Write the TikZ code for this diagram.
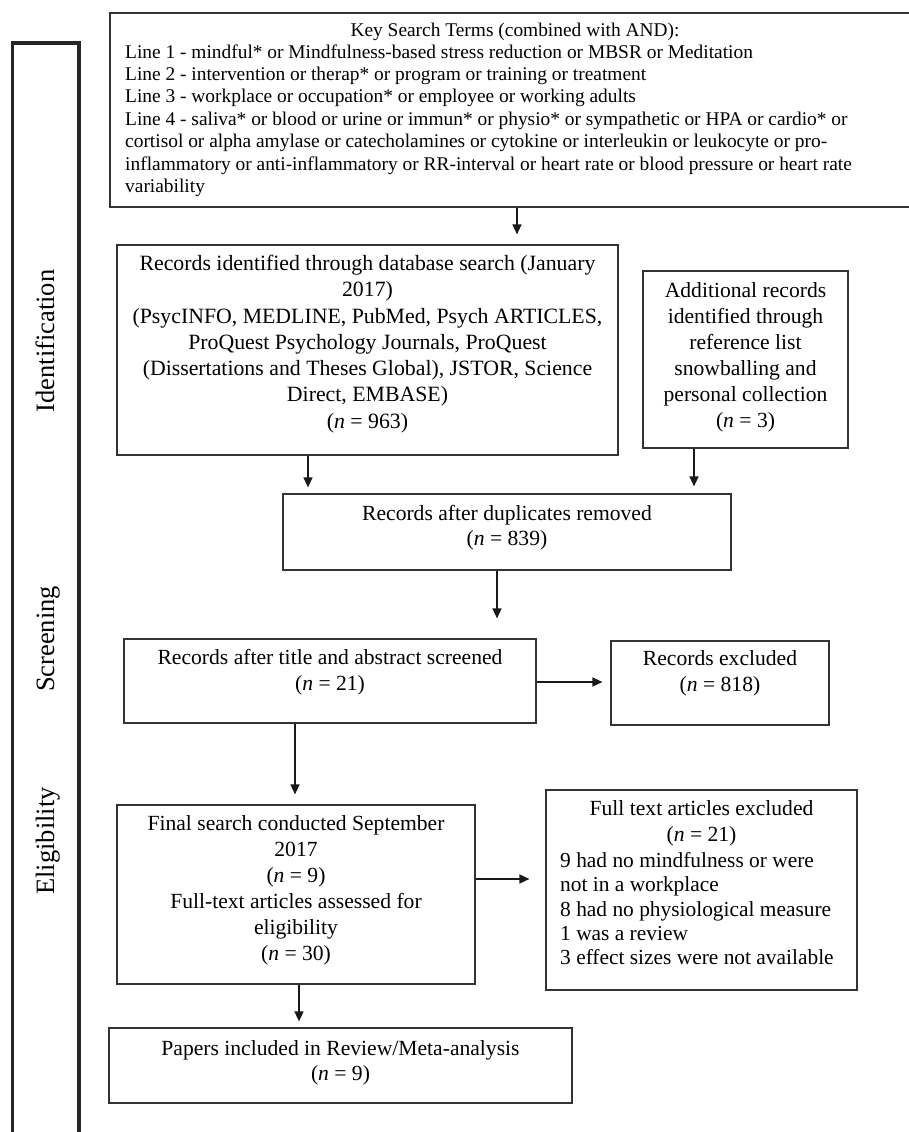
\documentclass[tikz,border=0pt]{standalone}
\usepackage{fontspec}
\setmainfont{Liberation Serif}
\usetikzlibrary{arrows.meta}
\begin{document}
\begin{tikzpicture}[x=1pt,y=-1pt,
  box/.style={draw=black!80, line width=1.2pt, inner sep=0pt},
  txt/.style={inner sep=0pt, align=center, font=\fontsize{21.6}{26}\selectfont},
  lab/.style={inner sep=0pt, rotate=90, anchor=base, font=\fontsize{26.5}{30}\selectfont},
  arr/.style={draw=black!90, line width=1.5pt, -{Triangle[length=10pt,width=9pt]}},
  bar/.style={draw=black!85, line width=3.5pt, line join=miter}]
\useasboundingbox (0,0) rectangle (909,1132);
% side bar
\draw[bar] (12.5,1140) -- (12.5,43) -- (79,43) -- (79,1140);
\node[lab] (lid) at (54,341) {Identification};
\node[lab] (lsc) at (54,639) {Screening};
\node[lab] (lel) at (54,841) {Eligibility};
% boxes
\node[box, minimum width=802pt, minimum height=194pt] (b0) at (511,110) {};
\node[box, minimum width=501pt, minimum height=210pt] (b1) at (367.5,350) {};
\node[box, minimum width=205pt, minimum height=177pt] (b2) at (745.5,359.5) {};
\node[box, minimum width=448pt, minimum height=76pt] (b3) at (507,532) {};
\node[box, minimum width=412pt, minimum height=84pt] (b4) at (330,681) {};
\node[box, minimum width=218pt, minimum height=84pt] (b5) at (720,683) {};
\node[box, minimum width=358pt, minimum height=179pt] (b6) at (296,894.5) {};
\node[box, minimum width=311pt, minimum height=200pt] (b7) at (701.5,890) {};
\node[box, minimum width=463pt, minimum height=75pt] (b8) at (340.5,1065.5) {};
% texts
\node[inner sep=0pt, font=\fontsize{19.4}{22.4}\selectfont] (t0a) at (515,32) {Key Search Terms (combined with AND):};
\node[inner sep=0pt, anchor=west, align=left, font=\fontsize{19.4}{22.4}\selectfont] (t0b) at (125,120.5) {Line 1 - mindful* or Mindfulness-based stress reduction or MBSR or Meditation\\
Line 2 - intervention or therap* or program or training or treatment\\
Line 3 - workplace or occupation* or employee or working adults\\
Line 4 - saliva* or blood or urine or immun* or physio* or sympathetic or HPA or cardio* or\\
cortisol or alpha amylase or catecholamines or cytokine or interleukin or leukocyte or pro-\\
inflammatory or anti-inflammatory or RR-interval or heart rate or blood pressure or heart rate\\
variability};
\node[txt, font=\fontsize{21.8}{26.3}\selectfont] (t1) at (367.5,344) {Records identified through database search (January\\ 2017)\\ (PsycINFO, MEDLINE, PubMed, Psych ARTICLES,\\ ProQuest Psychology Journals, ProQuest\\ (Dissertations and Theses Global), JSTOR, Science\\ Direct, EMBASE)\\ (\textit{n} = 963)};
\node[txt] (t2) at (745.5,357) {Additional records\\ identified through\\ reference list\\ snowballing and\\ personal collection\\ (\textit{n} = 3)};
\node[txt, font=\fontsize{21.6}{25}\selectfont] (t3) at (507,527.5) {Records after duplicates removed\\ (\textit{n} = 839)};
\node[txt] (t4) at (330,672) {Records after title and abstract screened\\ (\textit{n} = 21)};
\node[txt] (t5) at (720,673) {Records excluded\\ (\textit{n} = 818)};
\node[txt] (t6) at (296,890) {Final search conducted September\\ 2017\\ (\textit{n} = 9)\\ Full-text articles assessed for\\ eligibility\\ (\textit{n} = 30)};
\node[txt, font=\fontsize{21.6}{26.5}\selectfont] (t7a) at (701.5,823.5) {Full text articles excluded\\ (\textit{n} = 21)};
\node[txt, align=left, anchor=west, font=\fontsize{21.4}{24.3}\selectfont] (t7b) at (560,908.6) {9 had no mindfulness or were\\ not in a workplace\\ 8 had no physiological measure\\ 1 was a review\\ 3 effect sizes were not available};
\node[txt, font=\fontsize{21.6}{25}\selectfont] (t8) at (340.5,1062.5) {Papers included in Review/Meta-analysis\\ (\textit{n} = 9)};
% arrow x / y positions
\coordinate (c1) at (517,0);
\coordinate (c2) at (308,0);
\coordinate (c3) at (694,0);
\coordinate (c4) at (497,0);
\coordinate (c5) at (0,682);
\coordinate (c6) at (295,0);
\coordinate (c7) at (0,879);
\coordinate (c8) at (299,0);
\draw[arr, shorten >=10pt] (b0.south -| c1) -- (b1.north -| c1);
\draw[arr, shorten >=6pt] (b1.south -| c2) -- (b3.north -| c2);
\draw[arr, shorten >=7pt] (b2.south -| c3) -- (b3.north -| c3);
\draw[arr, shorten >=20pt] (b3.south -| c4) -- (b4.north -| c4);
\draw[arr, shorten >=8pt] (b4.east |- c5) -- (b5.west |- c5);
\draw[arr, shorten >=10pt] (b4.south -| c6) -- (b6.north -| c6);
\draw[arr, shorten >=16pt] (b6.east |- c7) -- (b7.west |- c7);
\draw[arr, shorten >=6pt] (b6.south -| c8) -- (b8.north -| c8);
\end{tikzpicture}
\end{document}
